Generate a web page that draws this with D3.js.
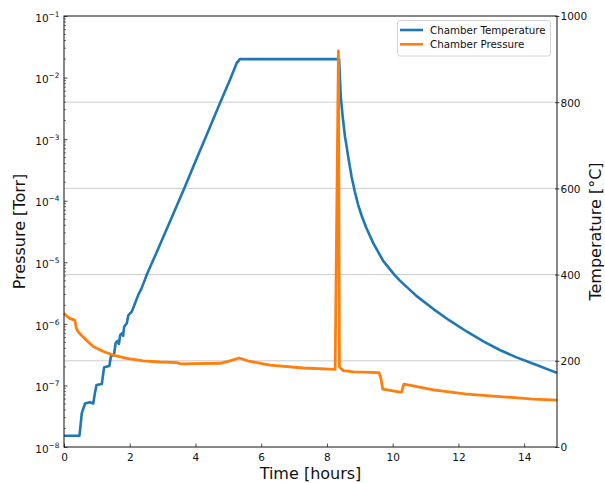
<!DOCTYPE html>
<html>
<head>
<meta charset="utf-8">
<script src="https://cdn.jsdelivr.net/npm/d3@7"></script>
<style>
  body { margin: 0; background: #fff; }
  svg text { font-family: "DejaVu Sans", sans-serif; fill: #111; }
</style>
</head>
<body>
<svg id="chart" width="605" height="483"></svg>
<script>
// Furnace run log: chamber temperature (°C, right axis) and chamber pressure (Torr, left log axis)

const tempHours  = [0, 0.47, 0.51, 0.54, 0.64, 0.79, 0.89, 0.94, 0.99, 1.15, 1.22, 1.38, 1.43, 1.52, 1.57, 1.63, 1.67, 1.71, 1.77, 1.80, 1.83, 1.91, 1.96, 2.06, 2.13, 2.26, 2.36, 2.52, 2.82, 3.02, 3.33, 3.68, 4.04, 4.34, 4.75, 5.05, 5.25, 5.35, 8.37, 8.42, 8.48, 8.55, 8.60, 8.65, 8.75, 8.85, 8.95, 9.06, 9.20, 9.41, 9.71, 10.05, 10.22, 10.73, 11.24, 11.74, 12.25, 12.76, 13.26, 13.77, 14.28, 15.0];
const tempValues = [26, 26, 55, 78, 101, 104, 101, 125, 144, 146, 185, 188, 211, 213, 241, 246, 239, 260, 264, 258, 279, 287, 306, 314, 327, 353, 368, 400, 452, 487, 542, 604, 670, 724, 799, 852, 890, 900, 900, 813, 766, 720, 697, 672, 627, 592, 562, 536, 508, 473, 432, 400, 386, 350, 320, 293, 268, 245, 225, 208, 193, 172];

const pressHours  = [0, 0.08, 0.17, 0.33, 0.37, 0.42, 0.52, 0.67, 0.89, 1.20, 1.50, 1.91, 2.41, 2.92, 3.45, 3.55, 4.75, 5.05, 5.33, 5.66, 6.27, 7.28, 8.25, 8.35, 8.38, 8.42, 8.50, 8.80, 9.58, 9.64, 9.70, 10.22, 10.27, 10.34, 10.43, 11.24, 12.25, 13.26, 14.28, 15.0];
const pressValues = [1.48e-6, 1.35e-6, 1.23e-6, 1.15e-6, 8.7e-7, 7.6e-7, 6.6e-7, 5.5e-7, 4.3e-7, 3.55e-7, 3.1e-7, 2.75e-7, 2.5e-7, 2.4e-7, 2.34e-7, 2.24e-7, 2.29e-7, 2.5e-7, 2.79e-7, 2.45e-7, 2.14e-7, 1.92e-7, 1.82e-7, 2.7e-2, 2.0e-7, 1.9e-7, 1.74e-7, 1.66e-7, 1.62e-7, 1.32e-7, 8.7e-8, 7.8e-8, 7.8e-8, 1.05e-7, 1.03e-7, 8.5e-8, 7.2e-8, 6.6e-8, 6.0e-8, 5.75e-8];

const timeTicks   = [0, 2, 4, 6, 8, 10, 12, 14];
const tempTicks   = [0, 200, 400, 600, 800, 1000];
const pressExps   = [-8, -7, -6, -5, -4, -3, -2, -1];
const seriesNames = ["Chamber Temperature", "Chamber Pressure"];
const seriesColors = ["#1f77b4", "#ff7f0e"];
const xLabel = "Time [hours]";
const yLeftLabel = "Pressure [Torr]";
const yRightLabel = "Temperature [°C]";

const svg = d3.select("#chart");
const L = 64, R = 557, T = 16, B = 447;

const x = d3.scaleLinear().domain([0, 15]).range([L, R]);
const yP = d3.scaleLog().domain([1e-8, 1e-1]).range([B, T]);
const yT = d3.scaleLinear().domain([0, 1000]).range([B, T]);

// grid from the temperature axis
svg.append("g").selectAll("line")
  .data(tempTicks.filter(v => v > 0 && v < 1000))
  .join("line")
  .attr("x1", L).attr("x2", R)
  .attr("y1", d => yT(d)).attr("y2", d => yT(d))
  .attr("stroke", "#cccccc").attr("stroke-width", 1);

// series
const tempLine = d3.line().x((d, i) => x(tempHours[i])).y(d => yT(d));
const pressLine = d3.line().x((d, i) => x(pressHours[i])).y(d => yP(d));

svg.append("path").datum(tempValues)
  .attr("d", tempLine).attr("fill", "none")
  .attr("stroke", seriesColors[0]).attr("stroke-width", 2.6)
  .attr("stroke-linejoin", "round");

svg.append("path").datum(pressValues)
  .attr("d", pressLine).attr("fill", "none")
  .attr("stroke", seriesColors[1]).attr("stroke-width", 2.8)
  .attr("stroke-linejoin", "round");

// bottom axis
const gx = svg.append("g").attr("transform", `translate(0,${B})`)
  .call(d3.axisBottom(x).tickValues(timeTicks).tickFormat(d3.format("d")).tickSize(-3.5).tickSizeOuter(0));
gx.select(".domain").remove();
gx.selectAll(".tick line").attr("stroke", "#222").attr("stroke-width", 0.8);
gx.selectAll(".tick text").attr("y", 14).attr("dy", null)
  .attr("font-size", 10.5).attr("font-family", "DejaVu Sans");

// left log axis: majors at each decade, minors between
const gl = svg.append("g").attr("transform", `translate(${L},0)`)
  .call(d3.axisLeft(yP).tickValues(pressExps.map(e => Math.pow(10, e))).tickFormat("").tickSize(-3.5).tickSizeOuter(0));
gl.select(".domain").remove();
gl.selectAll(".tick line").attr("stroke", "#222").attr("stroke-width", 0.8);
gl.selectAll(".tick text").remove();
const minorVals = [];
pressExps.slice(0, -1).forEach(e => { for (let m = 2; m <= 9; m++) minorVals.push(m * Math.pow(10, e)); });
gl.selectAll(".minor").data(minorVals).join("line").attr("class", "minor")
  .attr("x1", 0).attr("x2", 2).attr("y1", d => yP(d)).attr("y2", d => yP(d))
  .attr("stroke", "#222").attr("stroke-width", 0.6);
const lbl = gl.selectAll(".plabel").data(pressExps).join("text").attr("class", "plabel")
  .attr("text-anchor", "end").attr("x", -4.5)
  .attr("y", d => yP(Math.pow(10, d)) + 5.7).attr("font-size", 10.5);
lbl.append("tspan").text("10");
lbl.append("tspan").attr("dy", -5).attr("font-size", 7.4).text(d => "\u2212" + Math.abs(d));

// right temperature axis
const gr = svg.append("g").attr("transform", `translate(${R},0)`)
  .call(d3.axisRight(yT).tickValues(tempTicks).tickFormat(d3.format("d")).tickSize(0).tickPadding(3.5).tickSizeOuter(0));
gr.select(".domain").remove();
gr.selectAll(".tick line").attr("x1", -2).attr("x2", 2.5).attr("stroke", "#222").attr("stroke-width", 0.8);
gr.selectAll(".tick text").attr("dy", null).attr("y", 3.8).attr("font-size", 10.5).attr("font-family", "DejaVu Sans");

// frame
svg.append("rect").attr("x", L).attr("y", T).attr("width", R - L).attr("height", B - T)
  .attr("fill", "none").attr("stroke", "#111").attr("stroke-width", 1);

// axis titles
svg.append("text").attr("x", (L + R) / 2).attr("y", 479).attr("text-anchor", "middle")
  .attr("font-size", 16).text(xLabel);
svg.append("text").attr("transform", `translate(25,${(T + B) / 2}) rotate(-90)`)
  .attr("text-anchor", "middle").attr("font-size", 16).text(yLeftLabel);
svg.append("text").attr("transform", `translate(601,${(T + B) / 2}) rotate(-90)`)
  .attr("text-anchor", "middle").attr("font-size", 16).text(yRightLabel);

// legend
const lg = svg.append("g");
lg.append("rect").attr("x", 397.5).attr("y", 20.5).attr("width", 153).attr("height", 35.5)
  .attr("rx", 2.5).attr("fill", "#fff").attr("fill-opacity", 0.8)
  .attr("stroke", "#d4d4d4").attr("stroke-width", 1);
seriesNames.forEach((name, i) => {
  const yy = 30 + i * 14.3;
  lg.append("line").attr("x1", 400).attr("x2", 423).attr("y1", yy).attr("y2", yy)
    .attr("stroke", seriesColors[i]).attr("stroke-width", 2.6);
  lg.append("text").attr("x", 430).attr("y", yy + 3.7).attr("font-size", 10.3).text(name);
});
</script>
</body>
</html>
